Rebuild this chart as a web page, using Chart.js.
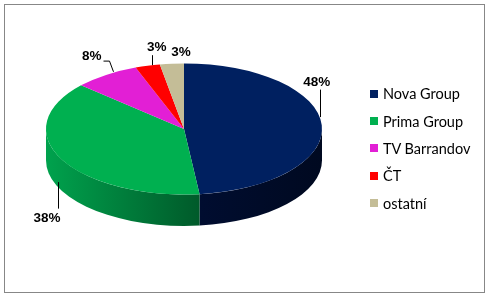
<!DOCTYPE html>
<html>
<head>
<meta charset="utf-8">
<script src="https://cdn.jsdelivr.net/npm/chart.js@4/dist/chart.umd.min.js"></script>
<style>
  body { margin: 0; background: #fff; }
  #wrap { position: relative; width: 491px; height: 298px; overflow: hidden; }
  #frame { position: absolute; left: 4px; top: 4px; width: 479px; height: 287px; border: 1px solid #878787; }
  #pie { position: absolute; left: 0; top: 0; }
  #legend { position: absolute; left: 370px; top: 80px; font-family: Lato, "Open Sans", sans-serif; font-size: 14.5px; color: #000; }
  .li { height: 27.4px; display: flex; align-items: center; white-space: nowrap; }
  .sw { width: 8px; height: 8px; margin-right: 5px; flex: none; }
</style>
</head>
<body>
<div id="wrap">
  <div id="frame"></div>
  <canvas id="pie" width="491" height="298"></canvas>
  <div id="legend"></div>
</div>
<script>
// data
const categories = ["Nova Group", "Prima Group", "TV Barrandov", "ČT", "ostatní"];
const shares = [48.2, 38.4, 7.7, 2.9, 2.8];

// look
const topColors = ["#002060", "#00B050", "#E21FD5", "#FF0000", "#C4BD97"];
const sideColors = [["#000d30", "#000920"], ["#00a24d", "#005a2a"], ["#9a1090", "#7a0a70"], ["#b00000", "#900000"], ["#8f886a", "#7a7458"]];
const tilt = 0.475;      // vertical squash of the pie
const depth = 66;        // side height, in unsquashed units
const centerY = 129;     // where the top face sits on screen

// label placement, relative to the slice mid point on the rim
const labelLayout = [
  { dx: -5.1, dy: -44.2, leader: [[-1.8, -35.7], [-1.8, -8.2]] },
  { dx: -14.4, dy: 58, leader: [[-3.7, 23], [-3.7, 49.5]] },
  { dx: -14.4, dy: -19.8, leader: [[-3.1, -13.8], [2.9, -13.8], [6.6, -3.1]] },
  { dx: 9.1, dy: -19.6, leader: [[4.1, -10.6], [4.1, -0.6]] },
  { dx: 9.1, dy: -12.6, leader: null },
];

const total = shares.reduce((a, b) => a + b, 0);

function squash(ctx, arc) {
  ctx.translate(0, centerY);
  ctx.scale(1, tilt);
  ctx.translate(0, -arc.y);
}

const pie3d = {
  id: "pie3d",
  beforeDatasetsDraw(chart) {
    const ctx = chart.ctx;
    const arcs = chart.getDatasetMeta(0).data;
    ctx.save();
    squash(ctx, arcs[0]);
    arcs.forEach((arc, i) => {
      const p = arc.getProps(["x", "y", "startAngle", "endAngle", "outerRadius"], true);
      const a1 = Math.max(p.startAngle, 0);
      const a2 = Math.min(p.endAngle, Math.PI);
      if (a2 <= a1) return;
      const xa = p.x + p.outerRadius * Math.cos(a1);
      const xb = p.x + p.outerRadius * Math.cos(a2);
      const g = ctx.createLinearGradient(Math.min(xa, xb), 0, Math.max(xa, xb), 0);
      g.addColorStop(0, sideColors[i][0]);
      g.addColorStop(1, sideColors[i][1]);
      ctx.beginPath();
      ctx.arc(p.x, p.y, p.outerRadius, a1, a2);
      ctx.arc(p.x, p.y + depth, p.outerRadius, a2, a1, true);
      ctx.closePath();
      ctx.fillStyle = g;
      ctx.fill();
    });
  },
  afterDatasetsDraw(chart) {
    chart.ctx.restore();
  },
  afterDraw(chart) {
    const ctx = chart.ctx;
    const arcs = chart.getDatasetMeta(0).data;
    ctx.save();
    ctx.font = "bold 13.5px 'Liberation Sans', Arial, sans-serif";
    ctx.textAlign = "center";
    ctx.textBaseline = "alphabetic";
    ctx.fillStyle = "#000";
    ctx.strokeStyle = "#000";
    ctx.lineWidth = 1;
    arcs.forEach((arc, i) => {
      const p = arc.getProps(["x", "y", "startAngle", "endAngle", "outerRadius"], true);
      const mid = (p.startAngle + p.endAngle) / 2;
      const ax = p.x + p.outerRadius * Math.cos(mid);
      const ay = centerY + p.outerRadius * tilt * Math.sin(mid);
      const l = labelLayout[i];
      if (l.leader) {
        ctx.beginPath();
        l.leader.forEach(([lx, ly], k) => {
          const X = Math.round(ax + lx) + 0.5, Y = ay + ly;
          k ? ctx.lineTo(X, Y) : ctx.moveTo(X, Y);
        });
        ctx.stroke();
      }
      const pct = Math.round(shares[i] / total * 100) + "%";
      ctx.fillText(pct, ax + l.dx, ay + l.dy + 4.8);
    });
    ctx.restore();
  }
};

new Chart(document.getElementById("pie"), {
  type: "pie",
  data: {
    labels: categories,
    datasets: [{
      data: shares,
      backgroundColor: topColors,
      borderWidth: 0,
      clip: false,
    }],
  },
  options: {
    responsive: false,
    animation: false,
    events: [],
    layout: { padding: { left: 46, right: 169, top: 11, bottom: 11 } },
    plugins: { legend: { display: false }, tooltip: { enabled: false } },
  },
  plugins: [pie3d],
});

// legend
const legend = document.getElementById("legend");
categories.forEach((name, i) => {
  const row = document.createElement("div");
  row.className = "li";
  row.innerHTML = `<span class="sw" style="background:${topColors[i]}"></span><span>${name}</span>`;
  legend.appendChild(row);
});
</script>
</body>
</html>
